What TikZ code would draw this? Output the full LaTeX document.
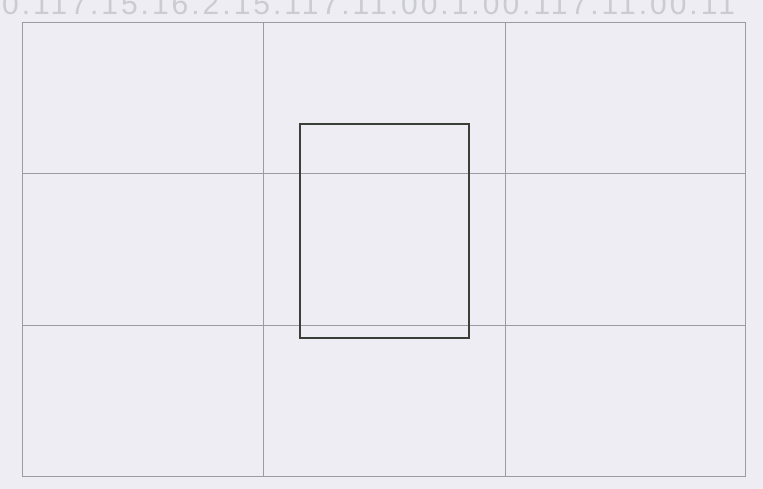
\documentclass[tikz,border=0pt]{standalone}
\usepackage{fontspec}
\setsansfont{Liberation Sans}
\usepackage{xcolor}
\definecolor{paperbg}{HTML}{EDEDF3}
\definecolor{gridline}{HTML}{9A9CA2}
\definecolor{framebox}{HTML}{3A3F38}
\definecolor{fadetext}{HTML}{CBCCD1}

\begin{document}
\begin{tikzpicture}[
    x=1pt, y=-1pt,
    grid/.style={draw=gridline, line width=0.8pt},
    crop/.style={draw=framebox, line width=1.8pt},
    header/.style={font=\sffamily\fontsize{30}{30}\selectfont\addfontfeature{LetterSpace=10},
                   text=fadetext, anchor=base west, inner sep=0pt}
]
    % page and its size
    \fill[paperbg] (0, 0) rectangle (763, 489);
    \useasboundingbox (0, 0) rectangle (763, 489);

    % cut-off line of text at the top
    \node[header] (head) at (2, 15) {0.117.15.16.2.15.117.11.00.1.00.117.11.00.11};

    % rule-of-thirds grid
    \draw[grid] (22, 22) rectangle (745, 476);
    \foreach \gx in {263, 505}
        \draw[grid] (\gx, 22) -- (\gx, 476);
    \foreach \gy in {173, 325}
        \draw[grid] (22, \gy) -- (745, \gy);

    % framing rectangle
    \draw[crop] (300, 124) rectangle (469, 338);
\end{tikzpicture}
\end{document}
